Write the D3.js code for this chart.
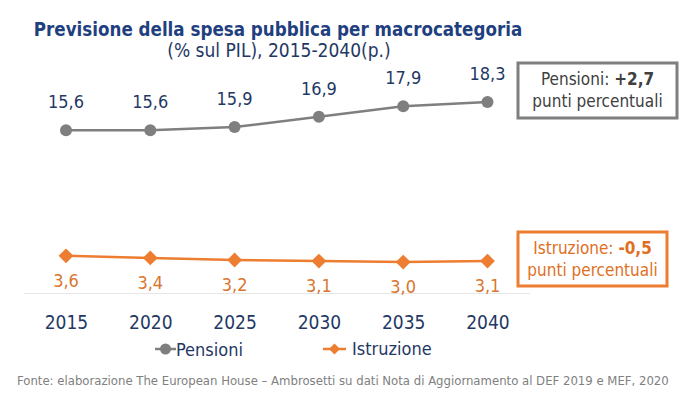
<!DOCTYPE html>
<html>
<head>
<meta charset="utf-8">
<script src="https://cdn.jsdelivr.net/npm/d3@7"></script>
<style>
  body { margin: 0; background: #fff; }
  svg { display: block; font-family: "DejaVu Sans Condensed", "DejaVu Sans", sans-serif; }
</style>
</head>
<body>
<div id="chart"></div>
<script>
// dati
var years = ["2015", "2020", "2025", "2030", "2035", "2040"];
var pensioni = [15.6, 15.6, 15.9, 16.9, 17.9, 18.3];
var istruzione = [3.6, 3.4, 3.2, 3.1, 3.0, 3.1];
var seriesNames = ["Pensioni", "Istruzione"];
var boxTexts = [["Pensioni: ", "+2,7"], ["Istruzione: ", "-0,5"]];

var W = 680, H = 394;
var gray = "#7f7f7f", orange = "#ed7d31", navy = "#1f3864", orangeText = "#d9762f";

var svg = d3.select("#chart").append("svg")
    .attr("width", W)
    .attr("height", H);

var x = d3.scalePoint().domain(years).range([66, 487.5]);
var y = d3.scaleLinear().domain([0, 20]).range([293.5, 84.2]);

var fmt = function(v) { return d3.format(".1f")(v).replace(".", ","); };

// titolo
svg.append("text")
    .attr("x", 278).attr("y", 36)
    .attr("text-anchor", "middle")
    .style("font-weight", "bold")
    .style("font-size", "18.6px")
    .style("fill", "#1f3f7f")
    .text("Previsione della spesa pubblica per macrocategoria");

svg.append("text")
    .attr("x", 279).attr("y", 57)
    .attr("text-anchor", "middle")
    .style("font-size", "19px")
    .style("fill", navy)
    .text("(% sul PIL), 2015-2040(p.)");

// asse dello zero
svg.append("line")
    .attr("x1", 24).attr("x2", 530)
    .attr("y1", y(0)).attr("y2", y(0))
    .style("stroke", "#e6e6e6")
    .style("stroke-width", 1);

var line = d3.line()
    .x(function(d, i) { return x(years[i]); })
    .y(function(d) { return y(d); });

// Pensioni
svg.append("path")
    .datum(pensioni)
    .attr("d", line)
    .style("fill", "none")
    .style("stroke", gray)
    .style("stroke-width", 2.5);

svg.selectAll(".dot-p")
    .data(pensioni)
    .enter().append("circle")
    .attr("class", "dot-p")
    .attr("cx", function(d, i) { return x(years[i]); })
    .attr("cy", function(d) { return y(d); })
    .attr("r", 6)
    .style("fill", gray);

svg.selectAll(".lab-p")
    .data(pensioni)
    .enter().append("text")
    .attr("class", "lab-p")
    .attr("x", function(d, i) { return x(years[i]); })
    .attr("y", function(d) { return y(d) - 22; })
    .attr("text-anchor", "middle")
    .style("font-size", "18px")
    .style("fill", navy)
    .text(fmt);

// Istruzione
svg.append("path")
    .datum(istruzione)
    .attr("d", line)
    .style("fill", "none")
    .style("stroke", orange)
    .style("stroke-width", 2.5);

var diamond = d3.symbol().type(d3.symbolSquare).size(110);

svg.selectAll(".dot-i")
    .data(istruzione)
    .enter().append("path")
    .attr("class", "dot-i")
    .attr("d", diamond)
    .attr("transform", function(d, i) {
        return "translate(" + x(years[i]) + "," + y(d) + ") rotate(45)";
    })
    .style("fill", orange);

svg.selectAll(".lab-i")
    .data(istruzione)
    .enter().append("text")
    .attr("class", "lab-i")
    .attr("x", function(d, i) { return x(years[i]); })
    .attr("y", function(d) { return y(d) + 31; })
    .attr("text-anchor", "middle")
    .style("font-size", "18px")
    .style("fill", orangeText)
    .text(fmt);

// anni
var xAxis = svg.append("g")
    .attr("transform", "translate(0,329)")
    .call(d3.axisBottom(x).tickSize(0).tickPadding(0));
xAxis.select(".domain").remove();
xAxis.selectAll("text")
    .attr("dy", 0)
    .style("font-family", "\"DejaVu Sans Condensed\", \"DejaVu Sans\", sans-serif")
    .style("font-size", "19px")
    .style("fill", navy);

// legenda
var leg = svg.append("g");
leg.append("line")
    .attr("x1", 155).attr("x2", 176).attr("y1", 349).attr("y2", 349)
    .style("stroke", gray).style("stroke-width", 2.5);
leg.append("circle")
    .attr("cx", 165.5).attr("cy", 349).attr("r", 5.5)
    .style("fill", gray);
leg.append("text")
    .attr("x", 176).attr("y", 356)
    .style("font-size", "18px")
    .style("fill", navy)
    .text(seriesNames[0]);

leg.append("line")
    .attr("x1", 323).attr("x2", 346).attr("y1", 349).attr("y2", 349)
    .style("stroke", orange).style("stroke-width", 2.5);
leg.append("path")
    .attr("d", d3.symbol().type(d3.symbolSquare).size(60))
    .attr("transform", "translate(334.5,349) rotate(45)")
    .style("fill", orange);
leg.append("text")
    .attr("x", 352).attr("y", 355)
    .style("font-size", "18px")
    .style("fill", navy)
    .text(seriesNames[1]);

// riquadri
var boxes = [
    { x: 518, y: 63, w: 159, h: 55, stroke: "#7f7f7f", fill: "#404040", t1: 85, t2: 107 },
    { x: 518, y: 232, w: 149, h: 54, stroke: "#ed7d31", fill: "#e0701f", t1: 254, t2: 276 }
];
boxes.forEach(function(b, i) {
    svg.append("rect")
        .attr("x", b.x).attr("y", b.y)
        .attr("width", b.w).attr("height", b.h)
        .style("fill", "#fff")
        .style("stroke", b.stroke)
        .style("stroke-width", 3);
    var t = svg.append("text")
        .attr("x", b.x + b.w / 2).attr("y", b.t1)
        .attr("text-anchor", "middle")
        .style("font-size", "17px")
        .style("fill", b.fill);
    t.append("tspan").text(boxTexts[i][0]);
    t.append("tspan").style("font-weight", "bold").text(boxTexts[i][1]);
    svg.append("text")
        .attr("x", b.x + b.w / 2).attr("y", b.t2)
        .attr("text-anchor", "middle")
        .style("font-size", "17px")
        .style("fill", b.fill)
        .text("punti percentuali");
});

// fonte
svg.append("text")
    .attr("x", 17).attr("y", 385)
    .style("font-size", "13px")
    .style("fill", "#808080")
    .text("Fonte: elaborazione The European House \u2013 Ambrosetti su dati Nota di Aggiornamento al DEF 2019 e MEF, 2020");
</script>
</body>
</html>
